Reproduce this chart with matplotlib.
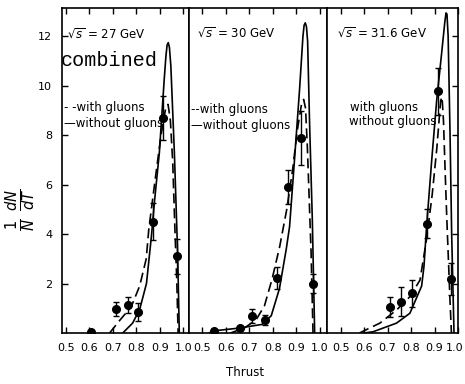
import matplotlib
matplotlib.use("Agg")
import matplotlib.pyplot as plt
from matplotlib.gridspec import GridSpec
import matplotlib.transforms as mtransforms

# ---------------- data ----------------
energies = ["27", "30", "31.6"]
xticks = [0.5, 0.6, 0.7, 0.8, 0.9, 1.0]
xtick_labels = ["0.5", "0.6", "0.7", "0.8", "0.9", "1.0"]
yticks = [2, 4, 6, 8, 10, 12]
xlims = [(0.483, 1.025), (0.444, 1.03), (0.44, 1.0)]

# panel 1 (27 GeV)
t1_solid = [0.742, 0.784, 0.814, 0.843, 0.864, 0.877, 0.898, 0.919, 0.926, 0.931, 0.936, 0.941, 0.947, 0.962, 0.976, 0.983]
y1_solid = [0.0, 0.4, 0.95, 2.0, 3.9, 5.3, 7.3, 10.3, 11.2, 11.65, 11.75, 11.55, 10.8, 7.3, 3.2, 0.0]
t1_dash = [0.686, 0.728, 0.778, 0.814, 0.842, 0.853, 0.88, 0.905, 0.925, 0.935, 0.945, 0.955, 0.965, 0.972, 0.978]
y1_dash = [0.0, 0.5, 1.06, 1.9, 3.0, 4.2, 6.2, 8.0, 9.1, 9.25, 8.6, 6.9, 4.0, 2.2, 0.0]
t1_pts = [0.606, 0.712, 0.763, 0.809, 0.869, 0.915, 0.975]
y1_pts = [0.05, 0.97, 1.13, 0.85, 4.5, 8.7, 3.1]
e1_pts = [0.0, 0.3, 0.32, 0.35, 0.75, 0.9, 0.7]

# panel 2 (30 GeV)
t2_solid = [0.53, 0.543, 0.658, 0.756, 0.794, 0.829, 0.858, 0.872, 0.893, 0.915, 0.929, 0.934, 0.939, 0.944, 0.949, 0.957, 0.969, 0.979]
y2_solid = [0.0, 0.08, 0.2, 0.35, 0.7, 1.8, 3.4, 4.3, 7.0, 9.9, 12.0, 12.45, 12.55, 12.4, 11.8, 8.6, 4.6, 0.0]
t2_dash = [0.62, 0.679, 0.729, 0.765, 0.798, 0.83, 0.86, 0.885, 0.905, 0.922, 0.932, 0.940, 0.948, 0.964, 0.972]
y2_dash = [0.0, 0.2, 0.53, 1.1, 2.2, 3.5, 5.0, 6.6, 8.2, 9.2, 9.45, 9.1, 7.5, 3.2, 0.0]
t2_pts = [0.551, 0.661, 0.712, 0.769, 0.818, 0.865, 0.919, 0.971]
y2_pts = [0.08, 0.2, 0.69, 0.53, 2.22, 5.9, 7.9, 2.0]
e2_pts = [0.05, 0.08, 0.27, 0.2, 0.45, 0.7, 1.1, 0.4]

# panel 3 (31.6 GeV)
t3_solid = [0.60, 0.638, 0.738, 0.795, 0.845, 0.855, 0.866, 0.888, 0.909, 0.930, 0.944, 0.949, 0.953, 0.958, 0.966, 0.973, 0.983]
y3_solid = [0.0, 0.05, 0.4, 0.8, 1.9, 2.7, 4.3, 7.0, 9.4, 11.3, 12.6, 12.95, 12.9, 12.0, 8.1, 4.0, 0.0]
t3_dash = [0.58, 0.667, 0.738, 0.795, 0.838, 0.866, 0.89, 0.91, 0.926, 0.932, 0.938, 0.945, 0.952, 0.966, 0.972]
y3_dash = [0.0, 0.4, 0.93, 1.47, 2.14, 3.8, 5.6, 7.5, 9.4, 9.55, 8.6, 6.6, 4.7, 1.3, 0.0]
t3_pts = [0.709, 0.759, 0.806, 0.866, 0.916, 0.969]
y3_pts = [1.06, 1.27, 1.6, 4.43, 9.79, 2.2]
e3_pts = [0.4, 0.58, 0.55, 0.6, 0.95, 0.65]

panels = [
    (t1_solid, y1_solid, t1_dash, y1_dash, t1_pts, y1_pts, e1_pts),
    (t2_solid, y2_solid, t2_dash, y2_dash, t2_pts, y2_pts, e2_pts),
    (t3_solid, y3_solid, t3_dash, y3_dash, t3_pts, y3_pts, e3_pts),
]

# ---------------- figure ----------------
W, H = 465, 384
fig = plt.figure(figsize=(W / 100, H / 100), dpi=100)
left, right, bottom, top = 62 / W, 458 / W, 1 - 333 / H, 1 - 8 / H
widths = [lo_hi[1] - lo_hi[0] for lo_hi in xlims]
gs = GridSpec(1, 3, figure=fig, left=left, right=right, bottom=bottom, top=top,
              wspace=0, width_ratios=widths)

for i, (ts, ys, td, yd, tp, yp, ep) in enumerate(panels):
    ax = fig.add_subplot(gs[0, i])
    ax.plot(ts, ys, color="black", lw=1.2, solid_joinstyle="round")
    ax.plot(td, yd, color="black", lw=1.2, dashes=(6, 3))
    ax.errorbar(tp, yp, yerr=ep, fmt="o", color="black", ms=5.5, elinewidth=1.0,
                capsize=2.2, capthick=1.0)
    ax.set_xlim(*xlims[i])
    ax.set_ylim(0, 13.15)
    ax.set_xticks(xticks)
    ax.set_xticklabels(xtick_labels)
    ax.set_yticks(yticks)
    ax.tick_params(direction="in", top=True, right=(i == 2), left=(i == 0),
                   length=4, width=1.0, labelsize=8, pad=7)
    if i != 0:
        ax.tick_params(labelleft=False)
    for sp in ax.spines.values():
        sp.set_linewidth(1.2)
    if i == 2:
        last = ax.get_xticklabels()[-1]
        last.set_transform(last.get_transform() +
                           mtransforms.ScaledTranslation(-3 / 100, 0, fig.dpi_scale_trans))

def ftext(x, y, s, **kw):
    fig.text(x / W, 1 - y / H, s, va="center", ha="left", **kw)

ftext(67, 35, r"$\sqrt{s}$ = 27 GeV", fontsize=8.5)
ftext(197, 34, r"$\sqrt{s}$ = 30 GeV", fontsize=8.5)
ftext(337, 34, r"$\sqrt{s}$ = 31.6 GeV", fontsize=8.5)
ftext(61, 61, "combined", fontsize=14.5, family="Liberation Mono")
ftext(64, 108, "- -with gluons", fontsize=8.5)
ftext(64, 124, "—without gluons", fontsize=8.5)
ftext(191, 109, "--with gluons", fontsize=8.5)
ftext(191, 125, "—without gluons", fontsize=8.5)
ftext(350, 108, "with gluons", fontsize=8.5)
ftext(349, 122, "without gluons", fontsize=8.5)

fig.text(21 / W, 1 - 210 / H, r"$\frac{1}{N}\ \frac{dN}{dT}$", rotation=90,
         va="center", ha="center", fontsize=15)
fig.text(245 / W, 1 - 372 / H, "Thrust", va="center", ha="center", fontsize=8.5)

fig.savefig("out.png", dpi=100)
